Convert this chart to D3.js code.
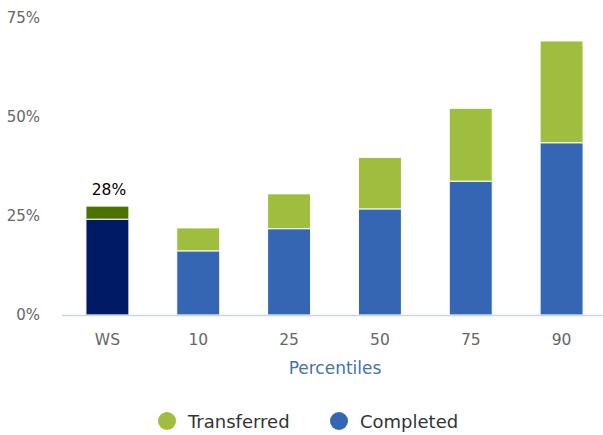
<!DOCTYPE html>
<html><head><meta charset="utf-8">
<script src="https://cdn.jsdelivr.net/npm/d3@7/dist/d3.min.js"></script>
<style>body{margin:0;background:#fff}svg{display:block}</style>
</head><body>
<svg id="chart" width="603" height="435"></svg>
<script>
const categories = ["WS", "10", "25", "50", "75", "90"];
const completed = [24.2, 16.2, 21.8, 26.8, 33.8, 43.5];
const transferred = [3.3, 5.8, 8.8, 13.0, 18.4, 25.7];
const yTicks = [0, 25, 50, 75];
const seriesNames = ["Transferred", "Completed"];

const colors = {
  completed: "#3466b4", transferred: "#9fbe3e",
  completedHi: "#001a66", transferredHi: "#4c7300"
};
const font = "'DejaVu Sans', Verdana, sans-serif";
const svg = d3.select("#chart");

const x = d3.scaleBand().domain(categories).range([62, 607])
  .paddingInner(0.527).paddingOuter(0.2635);
const y = d3.scaleLinear().domain([0, 75]).range([315, 18]);

// y-axis labels
const yAxis = d3.axisLeft(y).tickValues(yTicks).tickFormat(d => d + "%").tickSize(0).tickPadding(0);
const gy = svg.append("g").attr("transform", "translate(40,0)").call(yAxis);
gy.select(".domain").remove();
gy.selectAll("text").attr("fill", "#666").style("font-family", font).style("font-size", "15px");

// bars
const data = categories.map((c, i) => ({c, comp: completed[i], tr: transferred[i], i}));
const g = svg.append("g");
g.selectAll("rect.comp").data(data).join("rect").attr("class", "comp")
  .attr("x", d => x(d.c)).attr("width", x.bandwidth())
  .attr("y", d => y(d.comp)).attr("height", d => y(0) - y(d.comp))
  .attr("fill", d => d.i === 0 ? colors.completedHi : colors.completed)
  .attr("stroke", "#fff").attr("stroke-width", 1);
g.selectAll("rect.tr").data(data).join("rect").attr("class", "tr")
  .attr("x", d => x(d.c)).attr("width", x.bandwidth())
  .attr("y", d => y(d.comp + d.tr)).attr("height", d => y(d.comp) - y(d.comp + d.tr))
  .attr("fill", d => d.i === 0 ? colors.transferredHi : colors.transferred)
  .attr("stroke", "#fff").attr("stroke-width", 1);

// data label on first bar
svg.append("text")
  .attr("x", x(categories[0]) + x.bandwidth() / 2 + 1.5)
  .attr("y", y(completed[0] + transferred[0]) - 11)
  .attr("text-anchor", "middle").attr("fill", "#000")
  .style("font-family", font).style("font-size", "15.5px")
  .text(Math.round(completed[0] + transferred[0]) + "%");

// x axis
const xAxis = d3.axisBottom(x).tickSize(0).tickPadding(0);
const gx = svg.append("g").attr("transform", "translate(0,315)").call(xAxis);
gx.select(".domain").remove();
gx.selectAll("text").attr("dy", null).attr("y", 30).attr("fill", "#666")
  .style("font-family", font).style("font-size", "15.5px");
svg.append("line").attr("x1", 62).attr("x2", 603).attr("y1", 315.5).attr("y2", 315.5)
  .attr("stroke", "#ccd6eb").attr("stroke-width", 1.5);

// axis title
svg.append("text").attr("x", 335).attr("y", 374).attr("text-anchor", "middle")
  .attr("fill", "#4572a7").style("font-family", font).style("font-size", "17px")
  .text("Percentiles");

// legend
const legend = [
  {name: seriesNames[0], color: colors.transferred, cx: 167},
  {name: seriesNames[1], color: colors.completed, cx: 339}
];
const lg = svg.append("g");
legend.forEach(l => {
  lg.append("circle").attr("cx", l.cx).attr("cy", 421).attr("r", 9).attr("fill", l.color);
  lg.append("text").attr("x", l.cx + 21).attr("y", 428).attr("fill", "#333")
    .style("font-family", font).style("font-size", "18px").text(l.name);
});
</script>
</body></html>
